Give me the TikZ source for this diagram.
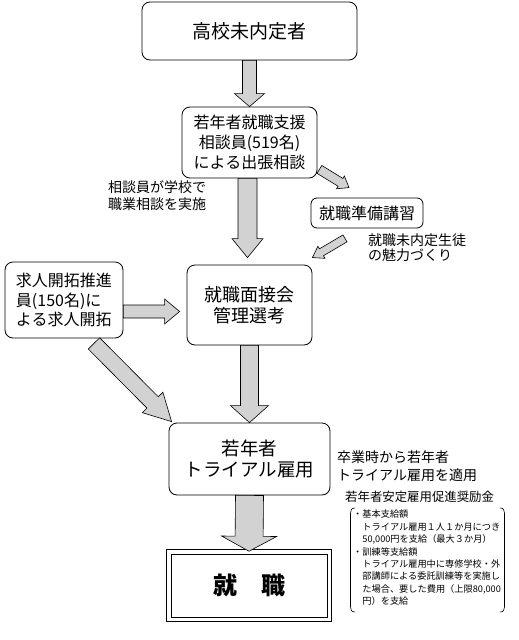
\documentclass[tikz,border=0pt]{standalone}
\usepackage{fontspec}
\setmainfont{Noto Sans CJK JP}
\usetikzlibrary{calc}
\tikzset{box/.style={draw, rounded corners=8pt, line width=0.8pt, align=center, inner sep=0pt}}
\tikzset{blockarrow/.style={fill=gray!35, draw=black, line width=0.6pt, line join=miter}}
\tikzset{note/.style={anchor=west, align=left, inner sep=0pt}}
\newcommand{\blockarrow}[5]{%
  \coordinate (ba-h) at ($(#2)!#5!(#1)$);
  \filldraw[blockarrow] ($(#1)!#3!90:(#2)$) -- ($(ba-h)!#3!90:(#2)$) -- ($(ba-h)!#4!90:(#2)$) -- (#2)
    -- ($(ba-h)!#4!-90:(#2)$) -- ($(ba-h)!#3!-90:(#2)$) -- ($(#1)!#3!-90:(#2)$) -- cycle;}

\begin{document}
\begin{tikzpicture}[x=1pt, y=-1pt]
\useasboundingbox (0,0) rectangle (519,640);

\node[box, minimum width=215pt, minimum height=58pt, font=\fontsize{19}{23}\selectfont] (mitei) at (249.5,31) {高校未内定者};
\node[box, minimum width=135pt, minimum height=71pt, font=\fontsize{16}{20}\selectfont] (soudan) at (249.5,142.5) {若年者就職支援\\相談員(519名)\\による出張相談};
\node[box, minimum width=112pt, minimum height=30pt, rounded corners=6pt, font=\fontsize{16}{20}\selectfont] (kouza) at (367,213) {就職準備講習};
\node[box, minimum width=118pt, minimum height=76pt, align=left, font=\fontsize{16}{19.5}\selectfont] (kaitaku) at (64,300) {求人開拓推進\\員(150名)に\\よる求人開拓};
\node[box, minimum width=125pt, minimum height=80pt, font=\fontsize{18}{20.5}\selectfont] (mensetsu) at (249.5,305) {就職面接会\\管理選考};
\node[box, minimum width=161pt, minimum height=72pt, font=\fontsize{18.5}{21}\selectfont] (trial) at (249.5,459) {若年者\\トライアル雇用};
\node[draw, line width=1pt, double, double distance=3.5pt, minimum width=160.5pt, minimum height=67.5pt, font=\fontsize{24}{28}\selectfont\bfseries] (shushoku) at (249,585.5) {就　職};

\node[note, font=\fontsize{14}{17}\selectfont] (gakkou) at (108,196) {相談員が学校で\\職業相談を実施};
\node[note, font=\fontsize{14}{15.5}\selectfont] (miryoku) at (368,247.5) {就職未内定生徒\\の魅力づくり};
\node[note, font=\fontsize{14}{18}\selectfont] (tekiyou) at (337,466) {卒業時から若年者\\トライアル雇用を適用};
\node[note, font=\fontsize{12.4}{14}\selectfont] (shoureikin) at (345,497) {若年者安定雇用促進奨励金};
\node[note, anchor=north west, font=\fontsize{9.2}{12.4}\selectfont] (shikyu) at (353,510) {・基本支給額\\　トライアル雇用１人１か月につき\\　50,000円を支給（最大３か月）\\・訓練等支給額\\　トライアル雇用中に専修学校・外\\　部講師による委託訓練等を実施し\\　た場合、要した費用（上限80,000\\　円）を支給};

\draw[line width=0.6pt] (355,508) .. controls (351.5,508) and (350.5,510) .. (350.5,513) -- (350.5,607) .. controls (350.5,610) and (351.5,612) .. (355,612);
\draw[line width=0.6pt] (500,508) .. controls (503.5,508) and (504.5,510) .. (504.5,513) -- (504.5,607) .. controls (504.5,610) and (503.5,612) .. (500,612);

\coordinate (a2e) at ($(mensetsu.north)+(-2,-7)$);
\coordinate (a5s) at ($(kaitaku.east)+(0,11.5)$);
\coordinate (a5e) at ($(mensetsu.west)+(-7,6.5)$);
\coordinate (a6s) at ($(kaitaku.south)+(30,5)$);
\coordinate (a6e) at ($(trial.north west)+(3,-1)$);
\coordinate (a7s) at ($(soudan.south east)+(2,-9)$);
\coordinate (a7e) at ($(kouza.north)+(-18,-10)$);
\coordinate (a8s) at ($(kouza.south)+(-22,10)$);
\coordinate (a8e) at ($(mensetsu.north east)+(0,-7)$);

\blockarrow{mitei.south}{soudan.north}{7pt}{15pt}{13pt}
\blockarrow{soudan.south -| a2e}{a2e}{9.5pt}{15.5pt}{19pt}
\blockarrow{mensetsu.south}{trial.north}{9pt}{19pt}{17pt}
\blockarrow{trial.south}{shushoku.north}{14pt}{27.5pt}{15pt}
\blockarrow{a5s}{a5e}{6.5pt}{12.5pt}{15pt}
\blockarrow{a6s}{a6e}{8pt}{14.5pt}{27pt}
\blockarrow{a7s}{a7e}{4.6pt}{7.5pt}{10pt}
\blockarrow{a8s}{a8e}{4pt}{7pt}{10.5pt}

\end{tikzpicture}
\end{document}
